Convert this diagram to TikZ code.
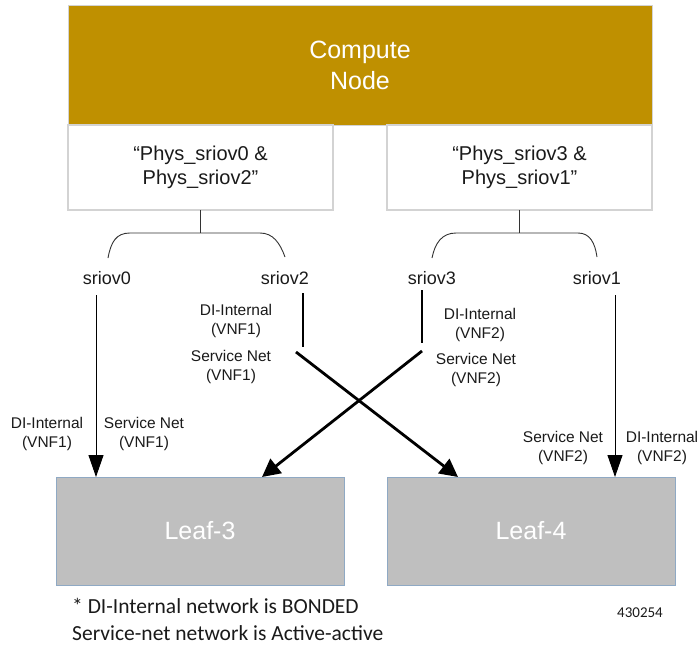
\documentclass[tikz,border=0pt]{standalone}
\usepackage{fontspec}
\setmainfont{Liberation Sans}
\newfontfamily\carl{Carlito}
\usetikzlibrary{arrows.meta}
\definecolor{gold}{HTML}{BF9000}
\definecolor{leafgray}{HTML}{BFBFBF}
\definecolor{leafedge}{HTML}{8FA9C4}
\definecolor{boxedge}{HTML}{D3D3D3}
\definecolor{txt}{HTML}{1A1A1A}
\begin{document}
\begin{tikzpicture}[x=1pt,y=-1pt,
  computebox/.style={draw=boxedge, line width=1pt, fill=gold, text=white, inner sep=0pt, outer sep=0pt, align=center, anchor=north west, font=\fontsize{25}{31}\selectfont},
  physbox/.style={draw=boxedge, line width=1.5pt, fill=white, text=txt, inner sep=0pt, outer sep=0pt, align=center, anchor=north west, minimum width=265pt, minimum height=85pt, font=\fontsize{20}{24}\selectfont},
  leafbox/.style={draw=leafedge, line width=0.8pt, fill=leafgray, text=white, inner sep=0pt, outer sep=0pt, anchor=north west, minimum width=288pt, minimum height=108pt, font=\fontsize{25}{30}\selectfont},
  portlbl/.style={text=txt, inner sep=0pt, font=\fontsize{18}{22}\selectfont},
  netlbl/.style={text=txt, inner sep=0pt, align=center, font=\fontsize{15.5}{19}\selectfont},
  thinarrow/.style={draw=black, line width=0.9pt, -{Triangle[length=22pt,width=15pt]}},
  thickarrow/.style={draw=black, line width=2.8pt, -{Triangle[length=18pt,width=18pt]}},
  plainline/.style={draw=black, line width=1.6pt},
  bracket/.style={draw=black!80, line width=0.9pt}
]
\useasboundingbox[fill=white] (0,0) rectangle (697,645);

% boxes
\node[computebox, minimum width=584pt, minimum height=120pt] (cn) at (68,5) {Compute\\Node};
\node[physbox] (lp) at (68,125) {``Phys\_sriov0 \&\\Phys\_sriov2''};
\node[physbox] (rp) at (387,125) {``Phys\_sriov3 \&\\Phys\_sriov1''};
\node[leafbox] (l3) at (56,477) {Leaf-3};
\node[leafbox] (l4) at (387,477) {Leaf-4};

% port labels
\node[portlbl] (s0) at (107,278) {sriov0};
\node[portlbl] (s2) at (285,278) {sriov2};
\node[portlbl] (s3) at (432,278) {sriov3};
\node[portlbl] (s1) at (597,278) {sriov1};

% brackets
\draw[bracket] (lp.south) -- ++(0,23) coordinate (lj);
\draw[bracket] (108,258) .. controls (111,242) and (116,233) .. (130,233) -- (260,233)
   .. controls (273,233) and (280,243) .. (285,257);
\draw[bracket] (rp.south) -- ++(0,23) coordinate (rj);
\draw[bracket] (432,258) .. controls (435,243) and (442,233) .. (456,233) -- (578,233)
   .. controls (590,233) and (595,243) .. (597,257);

% straight arrows
\coordinate (a0) at (96,295);
\draw[thinarrow] (a0) -- (a0 |- l3.north);
\coordinate (a1) at (615,295);
\draw[thinarrow] (a1) -- (a1 |- l4.north);

% short lines
\coordinate (p2) at (303,293);
\draw[plainline] (p2) -- ++(0,54);
\coordinate (p3) at (422,290);
\draw[plainline] (p3) -- ++(0,53);

% crossing arrows
\coordinate (c2) at (296,352);
\coordinate (c3) at (422,351);
\draw[thickarrow] (c2) -- ([xshift=71pt]l4.north west);
\draw[thickarrow] (c3) -- ([xshift=206pt]l3.north west);

% network labels
\node[netlbl] (n1) at (236,321) {DI-Internal\\(VNF1)};
\node[netlbl] (n2) at (231,367) {Service Net\\(VNF1)};
\node[netlbl] (n3) at (480,325) {DI-Internal\\(VNF2)};
\node[netlbl] (n4) at (476,370) {Service Net\\(VNF2)};
\node[netlbl] (n5) at (47,434) {DI-Internal\\(VNF1)};
\node[netlbl] (n6) at (144,434) {Service Net\\(VNF1)};
\node[netlbl] (n7) at (563,448) {Service Net\\(VNF2)};
\node[netlbl] (n8) at (662,448) {DI-Internal\\(VNF2)};

% footnote
\node[anchor=west, inner sep=0pt, text=txt, font=\carl\fontsize{21.5}{27}\selectfont, align=left] (fn) at (72,619) {* DI-Internal network is BONDED\\Service-net network is Active-active};
\node[inner sep=0pt, text=txt, font=\carl\fontsize{15}{18}\selectfont] (id) at (640,613) {430254};
\end{tikzpicture}
\end{document}
